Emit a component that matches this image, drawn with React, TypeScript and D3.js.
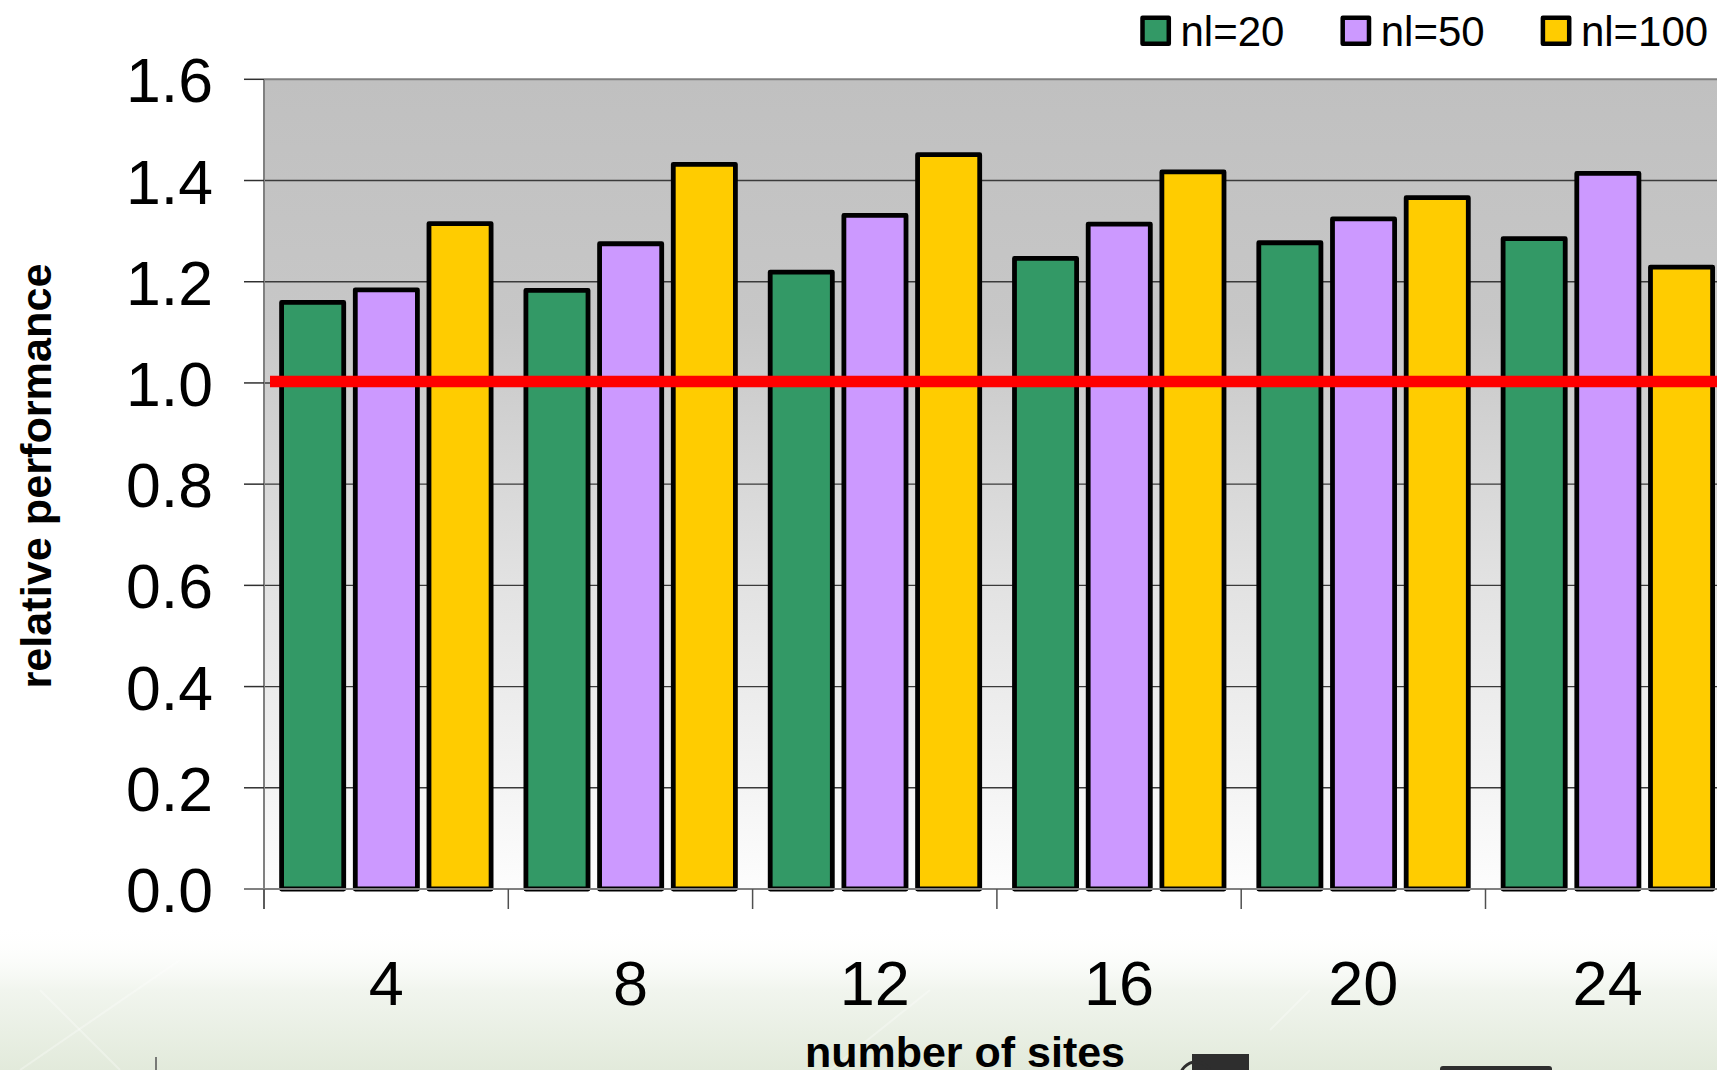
import React from "react";
import * as d3 from "d3";

// Number of sites on the x axis
const sites = ["4", "8", "12", "16", "20", "24"];
// Series names (legend)
const seriesNames = ["nl=20", "nl=50", "nl=100"];
// Relative performance per series, one value per site count
const nl20 = [1.159, 1.183, 1.219, 1.246, 1.277, 1.285];
const nl50 = [1.184, 1.275, 1.331, 1.314, 1.324, 1.414];
const nl100 = [1.315, 1.432, 1.451, 1.417, 1.366, 1.229];
const seriesColors = ["#339966", "#cc99ff", "#ffcc00"];
const yTicks = [0, 0.2, 0.4, 0.6, 0.8, 1.0, 1.2, 1.4, 1.6];
const baselineValue = 1.0;

const W = 1717;
const H = 1070;
const FONT = "'Liberation Sans', Arial, Helvetica, sans-serif";

export default function App() {
  const seriesValues = [nl20, nl50, nl100];

  const plotLeft = 264;
  const band = 244.3;
  const plotRight = plotLeft + band * sites.length;
  const plotTop = 79.3;
  const plotBottom = 889;

  const x0 = d3.scaleBand<string>().domain(sites).range([plotLeft, plotRight]);
  const x1 = d3
    .scaleBand<string>()
    .domain(seriesNames)
    .range([17.6, 227.1])
    .paddingInner(0.157);
  const y = d3.scaleLinear().domain([0, 1.6]).range([plotBottom, plotTop]);

  return (
    <svg
      width={W}
      height={H}
      viewBox={`0 0 ${W} ${H}`}
      style={{ position: "absolute", left: 0, top: 0, display: "block", background: "#ffffff" }}
    >
      <defs>
        <linearGradient id="plotBg" x1="0" y1="0" x2="0" y2="1">
          <stop offset="0" stopColor="#c0c0c0" />
          <stop offset="0.3" stopColor="#c7c7c7" />
          <stop offset="0.62" stopColor="#e2e2e2" />
          <stop offset="1" stopColor="#fdfdfd" />
        </linearGradient>
        <linearGradient id="footBg" x1="0" y1="0" x2="0" y2="1">
          <stop offset="0" stopColor="#ffffff" stopOpacity="0" />
          <stop offset="0.45" stopColor="#f1f5ee" stopOpacity="1" />
          <stop offset="1" stopColor="#e2eadb" stopOpacity="1" />
        </linearGradient>
      </defs>

      {/* page footer tint */}
      <rect x={0} y={925} width={W} height={H - 925} fill="url(#footBg)" />
      <g stroke="#ffffff" strokeOpacity={0.3} strokeWidth={2} fill="none">
        <line x1={20} y1={1070} x2={180} y2={960} />
        <line x1={120} y1={1070} x2={40} y2={990} />
        <line x1={830} y1={1070} x2={930} y2={990} />
        <line x1={1270} y1={1030} x2={1310} y2={990} />
      </g>
      <line x1={156} y1={1057} x2={156} y2={1070} stroke="#555" strokeWidth={1.5} />
      <rect x={1192} y={1054} width={57} height={16} fill="#2e2e2e" />
      <circle cx={1196} cy={1078} r={16} fill="none" stroke="#2e2e2e" strokeWidth={3} />
      <rect x={1440} y={1066} width={112} height={8} rx={3} fill="#2e2e2e" />

      {/* plot area */}
      <rect
        x={plotLeft}
        y={plotTop}
        width={plotRight - plotLeft}
        height={plotBottom - plotTop}
        fill="url(#plotBg)"
      />
      {yTicks.slice(1).map((t) => (
        <line
          key={`g${t}`}
          x1={plotLeft}
          x2={plotRight}
          y1={y(t)}
          y2={y(t)}
          stroke={t === 1.6 ? "#808080" : "#3a3a3a"}
          strokeWidth={t === 1.6 ? 2 : 1.4}
        />
      ))}

      {/* bars */}
      {sites.map((s, i) => (
        <g key={s} transform={`translate(${x0(s)},0)`}>
          {seriesNames.map((name, k) => {
            const v = seriesValues[k][i];
            return (
              <rect
                key={name}
                x={x1(name)}
                y={y(v)}
                width={x1.bandwidth()}
                height={y(0) - y(v)}
                fill={seriesColors[k]}
                stroke="#000"
                strokeWidth={4.8}
                strokeLinejoin="round"
              />
            );
          })}
        </g>
      ))}

      {/* reference line at 1.0 */}
      <line
        x1={270}
        x2={W}
        y1={y(baselineValue) - 1.5}
        y2={y(baselineValue) - 1.5}
        stroke="#ff0000"
        strokeWidth={11.5}
      />

      {/* axes */}
      <line x1={plotLeft} x2={plotLeft} y1={plotTop} y2={plotBottom + 20} stroke="#808080" strokeWidth={2} />
      <line x1={plotLeft - 20} x2={plotRight} y1={plotBottom} y2={plotBottom} stroke="#808080" strokeWidth={2} />
      {yTicks.map((t) => (
        <g key={`yt${t}`}>
          <line x1={plotLeft - 20} x2={plotLeft} y1={y(t)} y2={y(t)} stroke={t === 0 ? "#808080" : "#303030"} strokeWidth={1.5} />
          <text
            x={213}
            y={y(t) + 23}
            textAnchor="end"
            fontFamily={FONT}
            fontSize={62.5}
            fill="#000"
          >
            {t.toFixed(1)}
          </text>
        </g>
      ))}
      {sites.map((s) => (
        <g key={`xt${s}`}>
          <line x1={x0(s)!} x2={x0(s)!} y1={plotBottom} y2={plotBottom + 20} stroke="#505050" strokeWidth={1.5} />
          <text
            x={x0(s)! + x0.bandwidth() / 2}
            y={1005}
            textAnchor="middle"
            fontFamily={FONT}
            fontSize={63}
            fill="#000"
          >
            {s}
          </text>
        </g>
      ))}

      {/* axis titles */}
      <text
        x={965}
        y={1067}
        textAnchor="middle"
        fontFamily={FONT}
        fontWeight="bold"
        fontSize={42}
        textLength={320}
        lengthAdjust="spacingAndGlyphs"
        fill="#000"
      >
        number of sites
      </text>
      <text
        transform="translate(50.5,476) rotate(-90)"
        textAnchor="middle"
        fontFamily={FONT}
        fontWeight="bold"
        fontSize={42}
        textLength={425}
        lengthAdjust="spacingAndGlyphs"
        fill="#000"
      >
        relative performance
      </text>

      {/* legend */}
      {seriesNames.map((name, k) => {
        const lx = 1140.5 + k * 200.2;
        return (
          <g key={`lg${name}`}>
            <rect
              x={lx + 2}
              y={17.7}
              width={26.3}
              height={26}
              fill={seriesColors[k]}
              stroke="#000"
              strokeWidth={4.5}
              strokeLinejoin="round"
            />
            <text x={lx + 40} y={45.5} fontFamily={FONT} fontSize={42} fill="#000">
              {name}
            </text>
          </g>
        );
      })}
    </svg>
  );
}
